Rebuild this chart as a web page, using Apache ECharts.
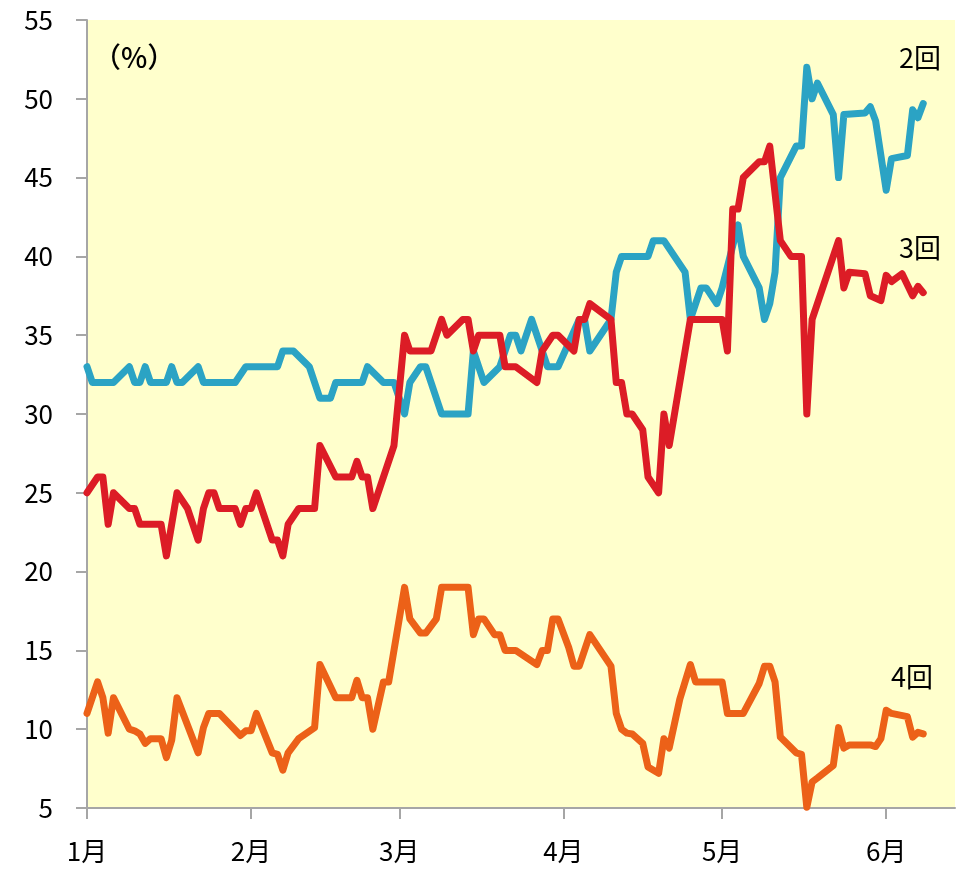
<!DOCTYPE html>
<html>
<head>
<meta charset="utf-8">
<script src="https://cdn.jsdelivr.net/npm/echarts@6/dist/echarts.min.js"></script>
<style>
html,body{margin:0;padding:0;background:#fff;}
#chart{width:961px;height:871px;}
</style>
</head>
<body>
<div id="chart"></div>
<script>
// x values: days since January 1
const monthTickDays = [0, 31, 59, 90, 120, 151];
const monthLabels = ['1月', '2月', '3月', '4月', '5月', '6月'];

const days2 = [0,1,5,8,9,10,11,12,15,16,17,18,21,22,28,30,36,37,39,42,44,46,47,52,53,56,58,60,61,63,64,65,67,72,73,75,78,80,81,82,84,87,89,93,94,95,99,100,101,106,107,109,113,114,116,117,119,120,123,124,127,128,129,130,131,134,135,136,137,138,141,142,143,147,148,149,151,152,155,156,157,158];
const vals2 = [33,32,32,33,32,32,33,32,32,33,32,32,33,32,32,33,33,34,34,33,31,31,32,32,33,32,32,30,32,33,33,32,30,30,34,32,33,35,35,34,36,33,33,36,36,34,36,39,40,40,41,41,39,36,38,38,37,38,42,40,38,36,37,39,45,47,47,52,50,51,49,45,49,49.1,49.5,48.6,44.2,46.2,46.4,49.3,48.8,49.7];

const days3 = [0,2,3,4,5,8,9,10,14,15,17,19,21,22,23,24,25,28,29,30,31,32,35,36,37,38,40,43,44,47,50,51,52,53,54,58,60,61,65,67,68,71,72,73,74,78,79,81,85,86,88,89,92,93,94,95,99,100,101,102,103,105,106,108,109,110,114,120,121,122,123,124,127,128,129,131,133,135,136,137,138,140,142,143,144,147,148,150,151,152,154,156,157,158];
const vals3 = [25,26,26,23,25,24,24,23,23,21,25,24,22,24,25,25,24,24,23,24,24,25,22,22,21,23,24,24,28,26,26,27,26,26,24,28,35,34,34,36,35,36,36,34,35,35,33,33,32,34,35,35,34,36,36,37,36,32,32,30,30,29,26,25,30,28,36,36,34,43,43,45,46,46,47,41,40,40,30,36,37,39,41,38,39,38.9,37.5,37.2,38.8,38.4,38.9,37.5,38.1,37.7];

const days4 = [0,2,3,4,5,8,9,10,11,12,14,15,16,17,21,22,23,25,29,30,31,32,35,36,37,38,40,43,44,47,50,51,52,53,54,56,57,60,61,63,64,66,67,72,73,74,75,77,78,79,81,85,86,87,88,89,91,92,93,95,99,100,101,102,103,105,106,108,109,110,112,114,115,120,121,124,127,128,129,130,131,134,135,136,137,138,141,142,143,144,148,149,150,151,152,155,156,157,158];
const vals4 = [11,13,12,9.75,12,10,9.9,9.7,9.1,9.4,9.4,8.2,9.3,12,8.5,10.1,11,11,9.6,9.9,9.9,11,8.5,8.4,7.4,8.5,9.4,10.1,14.1,12,12,13.1,12,12,10,13,13,19,17,16.1,16.1,17,19,19,16,17,17,16,16,15,15,14.1,15,15,17,17,15.2,14,14,16,14,11,10,9.75,9.7,9.1,7.6,7.2,9.4,8.8,11.9,14.1,13,13,11,11,12.9,14,14,13,9.5,8.5,8.4,5.05,6.65,6.9,7.7,10.1,8.8,9,9,8.9,9.4,11.2,11,10.8,9.5,9.8,9.7];

const seriesNames = ['2回', '3回', '4回'];
const seriesColors = ['#2BA3C4', '#DC1C26', '#EC6118'];

const toPairs = (d, v) => d.map((x, i) => [x, v[i]]);

const FONT = '"Noto Sans CJK JP", "Noto Sans", sans-serif';
const chart = echarts.init(document.getElementById('chart'), null, {renderer: 'canvas'});

const lineSeries = [[days2, vals2], [days3, vals3], [days4, vals4]].map((p, i) => ({
  name: seriesNames[i],
  type: 'line',
  data: toPairs(p[0], p[1]),
  showSymbol: false,
  symbol: 'none',
  animation: false,
  lineStyle: {color: seriesColors[i], width: 7, cap: 'round', join: 'round'},
  itemStyle: {color: seriesColors[i]},
  z: 2 + i
}));

chart.setOption({
  animation: false,
  backgroundColor: '#ffffff',
  grid: {
    left: 87, right: 6, top: 20, bottom: 63,
    show: true, backgroundColor: '#FFFFCC', borderWidth: 0
  },
  xAxis: {
    type: 'value',
    min: 0, max: 164,
    axisLine: {show: true, lineStyle: {color: '#A6A6A6', width: 2}},
    axisTick: {show: true, customValues: monthTickDays, length: 11, inside: false, lineStyle: {color: '#A6A6A6', width: 2}},
    axisLabel: {
      customValues: monthTickDays,
      formatter: v => monthLabels[monthTickDays.indexOf(v)] || '',
      fontSize: 26, color: '#000', fontFamily: FONT, margin: 30
    },
    splitLine: {show: false}
  },
  yAxis: {
    type: 'value',
    min: 5, max: 55, interval: 5,
    axisLine: {show: true, lineStyle: {color: '#A6A6A6', width: 2}},
    axisTick: {show: true, length: 11, inside: false, lineStyle: {color: '#A6A6A6', width: 2}},
    axisLabel: {fontSize: 26, color: '#000', fontFamily: FONT, margin: 34},
    splitLine: {show: false}
  },
  series: lineSeries,
  graphic: [
    {type: 'text', left: 93, top: 43, style: {text: '（%）', fontSize: 28, fontWeight: 500, fill: '#000', fontFamily: FONT}},
    {type: 'text', left: 899, top: 44, style: {text: seriesNames[0], fontSize: 27, fill: '#000', fontFamily: FONT}},
    {type: 'text', left: 899, top: 234, style: {text: seriesNames[1], fontSize: 27, fill: '#000', fontFamily: FONT}},
    {type: 'text', left: 891, top: 663, style: {text: seriesNames[2], fontSize: 27, fill: '#000', fontFamily: FONT}}
  ]
});
</script>
</body>
</html>
